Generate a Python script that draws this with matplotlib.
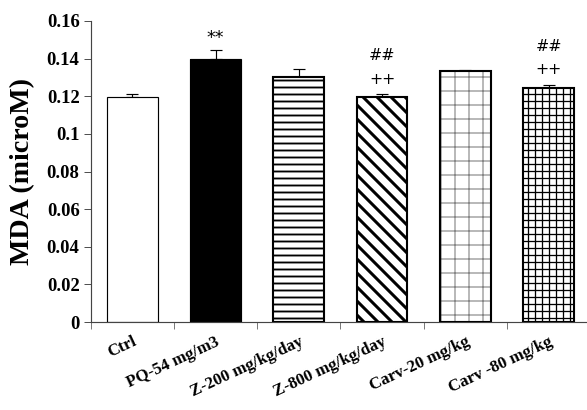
import matplotlib
matplotlib.use("Agg")
import matplotlib.pyplot as plt

# данні з графіка
groups = ["Ctrl", "PQ-54 mg/m3", "Z-200 mg/kg/day", "Z-800 mg/kg/day",
          "Carv-20 mg/kg", "Carv -80 mg/kg"]
mda = [0.1197, 0.1400, 0.1302, 0.1198, 0.1332, 0.1242]
sem = [0.0015, 0.0047, 0.0045, 0.0013, 0.0005, 0.0018]
sig_pq = ["", "**", "", "++", "", "++"]
sig_z = ["", "", "", "##", "", "##"]

yticks = [0, 0.02, 0.04, 0.06, 0.08, 0.1, 0.12, 0.14, 0.16]
ytick_labels = ["0", "0.02", "0.04", "0.06", "0.08", "0.1", "0.12", "0.14", "0.16"]

DPI = 84
plt.rcParams['font.family'] = ['Liberation Serif', 'DejaVu Serif']
plt.rcParams['font.weight'] = 'bold'
plt.rcParams['hatch.linewidth'] = 1.2

fig = plt.figure(figsize=(587 / DPI, 410 / DPI), dpi=DPI)
ax = fig.add_axes([0.1545, 0.2146, 0.851, 0.7342])

x = list(range(len(groups)))
w = 0.61

fills = ['white', 'black', 'white', 'white', 'white', 'white']
hatches = [None, None, '--', '\\\\', '+', '++']
hatch_cols = ['black', 'black', 'black', 'black', '#888888', 'black']
hatch_lw = [1, 1, 1.6, 2.6, 1.0, 1.1]

for i in x:
    # шар з штрихуванням
    b = ax.bar(x[i], mda[i], width=w, color=fills[i], hatch=hatches[i],
               edgecolor=hatch_cols[i], linewidth=0, zorder=2)[0]
    if hasattr(b, 'set_hatch_linewidth'):
        b.set_hatch_linewidth(hatch_lw[i])
    # контур
    ax.bar(x[i], mda[i], width=w, color='none', edgecolor='black',
           linewidth=1.8 if i > 1 else 1.0, zorder=3)

ax.errorbar(x, mda, yerr=[[0] * len(sem), sem], fmt='none', ecolor='black',
            elinewidth=1, capsize=5, capthick=1, zorder=1)

for i in x:
    top = mda[i] + sem[i]
    if sig_pq[i] == "**":
        ax.text(x[i], top + 0.0065, "**", ha='center', va='center',
                fontsize=15, fontweight='normal', family='DejaVu Sans')
    elif sig_pq[i]:
        ax.text(x[i], top + 0.008, sig_pq[i], ha='center', va='center',
                fontsize=13.5, fontweight='normal', family='DejaVu Sans')
    if sig_z[i]:
        ax.text(x[i], top + 0.0205, sig_z[i], ha='center', va='center',
                fontsize=13.5, fontweight='normal', family='DejaVu Sans')

ax.set_xlim(-0.5, 5.5)
ax.set_ylim(0, 0.16)
ax.set_yticks(yticks)
ax.set_yticklabels(ytick_labels, fontsize=16, fontweight='bold')

# мітки по центру, тики між категоріями
ax.set_xticks(x)
ax.set_xticklabels(groups, rotation=25, ha='right', rotation_mode='anchor',
                   fontsize=14.5, fontweight='bold')
ax.tick_params(axis='x', which='major', length=0, pad=10)
ax.set_xticks([v - 0.5 for v in x], minor=True)
ax.tick_params(axis='x', which='minor', length=6, direction='out', color='#444444')
ax.tick_params(axis='y', length=6, direction='out', color='#444444')

for s in ['top', 'right']:
    ax.spines[s].set_visible(False)
for s in ['left', 'bottom']:
    ax.spines[s].set_color('#444444')
    ax.spines[s].set_linewidth(1.0)

ax.set_ylabel("MDA (microM)", fontsize=24, fontweight='bold', labelpad=10)

fig.savefig("out.png", dpi=DPI)
